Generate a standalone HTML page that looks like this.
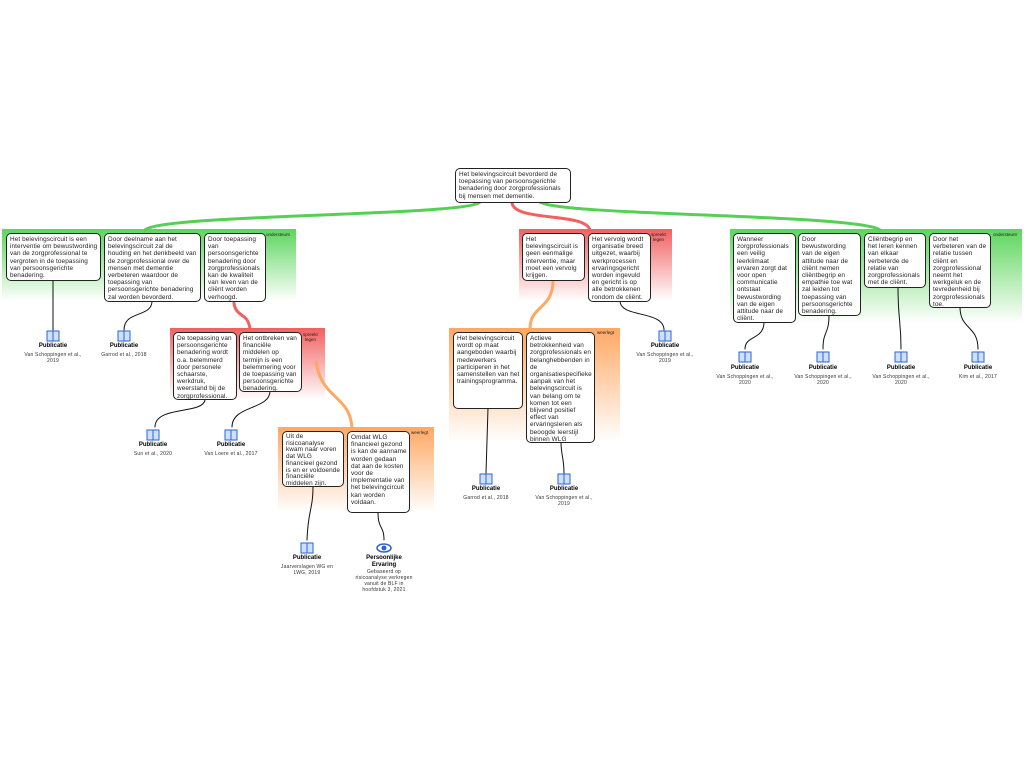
<!DOCTYPE html>
<html><head><meta charset="utf-8"><style>
body{margin:0;width:1024px;height:768px;background:#fff;position:relative;overflow:hidden;font-family:"Liberation Sans",sans-serif;}
.g{position:absolute;}
.gr{background:linear-gradient(#5cd65c,#fff);}
.rd{background:linear-gradient(#f26060,#fff);}
.or{background:linear-gradient(#ffa863,#fff);}
.b{position:absolute;background:#fff;border:1.5px solid #222;border-radius:5px;font-size:6.4px;letter-spacing:0.1px;line-height:7.2px;color:#222;padding:2px 2px 2px 3px;box-sizing:border-box;overflow:hidden;}
.lab{position:absolute;font-size:4.5px;line-height:5px;color:#222;text-align:center;}
.pt{position:absolute;font-size:6px;font-weight:bold;text-align:center;width:80px;color:#000;line-height:7px;}
.pr{position:absolute;font-size:5px;letter-spacing:0.2px;line-height:6px;text-align:center;width:60px;color:#333;}
svg{position:absolute;left:0;top:0;}
</style></head><body>
<div class="g gr" style="left:2px;top:229px;width:294px;height:72px"></div>
<div class="g rd" style="left:170px;top:328px;width:155px;height:72px"></div>
<div class="g or" style="left:278px;top:427px;width:156px;height:86px"></div>
<div class="g rd" style="left:519px;top:229px;width:153px;height:72px"></div>
<div class="g or" style="left:449px;top:328px;width:171px;height:114px"></div>
<div class="g gr" style="left:730px;top:229px;width:292px;height:94px"></div>
<div class="lab" style="left:266px;top:232px">ondersteunt</div>
<div class="lab" style="left:303px;top:332px">spreekt<br>tegen</div>
<div class="lab" style="left:411px;top:430px">weerlegt</div>
<div class="lab" style="left:651px;top:232px">spreekt<br>tegen</div>
<div class="lab" style="left:597px;top:330px">weerlegt</div>
<div class="lab" style="left:993px;top:232px">ondersteunt</div>
<svg width="1024" height="768">
<g fill="none" stroke-linecap="round">
<path d="M480 202 C470 216 160 214 145 230" stroke="#55d055" stroke-width="3"/>
<path d="M540 202 C560 216 860 214 880 230" stroke="#55d055" stroke-width="3"/>
<path d="M512 203 C515 222 585 212 590 230" stroke="#f26060" stroke-width="3"/>
<path d="M234 303 C236 318 248 312 250 329" stroke="#f26060" stroke-width="3"/>
<path d="M316 362 C322 400 350 395 352 428" stroke="#ffa863" stroke-width="3"/>
<path d="M553 282 C552 310 530 305 530 329" stroke="#ffa863" stroke-width="3"/>
<g stroke="#111" stroke-width="1">
<path d="M53 280 L53 330"/>
<path d="M152 301 C152 318 124 310 124 330"/>
<path d="M205 399 C205 415 155 405 155 427"/>
<path d="M270 391 C270 410 232 405 232 427"/>
<path d="M313 486 C313 510 308 510 307 540"/>
<path d="M378 512 C378 530 384 525 384 540"/>
<path d="M488 408 L486 473"/>
<path d="M561 442 C561 455 564 458 564 473"/>
<path d="M620 301 C620 318 664 310 664 330"/>
<path d="M764 322 C764 340 745 335 745 349"/>
<path d="M829 315 C829 335 823 330 823 349"/>
<path d="M898 287 C898 320 901 320 901 349"/>
<path d="M960 307 C960 330 978 325 978 349"/>
</g></g>
</svg>
<div class="b" style="left:455px;top:168px;width:116px;height:35px">Het belevingscircuit bevorderd de toepassing van persoonsgerichte benadering door zorgprofessionals bij mensen met dementie.</div>
<div class="b" style="left:6px;top:233px;width:95px;height:48px">Het belevingscircuit is een interventie om bewustwording van de zorgprofessional te vergroten in de toepassing van persoonsgerichte benadering.</div>
<div class="b" style="left:104px;top:233px;width:97px;height:69px">Door deelname aan het belevingscircuit zal de houding en het denkbeeld van de zorgprofessional over de mensen met dementie verbeteren waardoor de toepassing van persoonsgerichte benadering zal worden bevorderd.</div>
<div class="b" style="left:204px;top:233px;width:62px;height:69px">Door toepassing van persoonsgerichte benadering door zorgprofessionals kan de kwaliteit van leven van de cliënt  worden verhoogd.</div>
<div class="b" style="left:173px;top:332px;width:64px;height:68px">De toepassing van persoonsgerichte benadering wordt o.a. belemmerd door personele schaarste, werkdruk, weerstand bij de zorgprofessional.</div>
<div class="b" style="left:239px;top:332px;width:63px;height:60px">Het ontbreken van financiële middelen op termijn is een belemmering voor de toepassing van persoonsgerichte benadering.</div>
<div class="b" style="left:282px;top:431px;width:62px;height:56px;line-height:6.7px">Uit de risicoanalyse kwam naar voren dat WLG financieel gezond is en er voldoende financiële middelen zijn.</div>
<div class="b" style="left:347px;top:431px;width:63px;height:82px">Omdat WLG financieel gezond is kan de aanname worden gedaan dat aan de kosten voor de implementatie van het belevingcircuit kan worden voldaan.</div>
<div class="b" style="left:522px;top:233px;width:63px;height:48px">Het belevingscircuit is geen eenmalige interventie, maar moet een vervolg krijgen.</div>
<div class="b" style="left:588px;top:233px;width:63px;height:69px">Het vervolg wordt organisatie breed uitgezet, waarbij werkprocessen ervaringsgericht worden ingevuld en gericht is op alle betrokkenen rondom de cliënt.</div>
<div class="b" style="left:453px;top:332px;width:70px;height:77px">Het belevingscircuit wordt op maat aangeboden waarbij medewerkers participeren in het samenstellen van het trainingsprogramma.</div>
<div class="b" style="left:526px;top:332px;width:69px;height:111px">Actieve betrokkenheid van zorgprofessionals en belanghebbenden in de organisatiespecifieke aanpak van het belevingscircuit is van belang om te komen tot een blijvend positief effect van ervaringsleren als beoogde leerstijl binnen WLG</div>
<div class="b" style="left:733px;top:233px;width:63px;height:90px">Wanneer zorgprofessionals een veilig leerklimaat ervaren  zorgt dat voor open communicatie ontstaat bewustwording van de eigen attitude naar de cliënt.</div>
<div class="b" style="left:798px;top:233px;width:63px;height:83px">Door bewustwording van de eigen attitude naar de cliënt nemen cliëntbegrip en empathie toe wat zal leiden tot toepassing van persoonsgerichte benadering.</div>
<div class="b" style="left:864px;top:233px;width:62px;height:55px">Cliëntbegrip en het leren kennen van elkaar verbeterde de relatie van zorgprofessionals met de cliënt.</div>
<div class="b" style="left:929px;top:233px;width:62px;height:75px">Door het verbeteren van de relatie tussen cliënt en zorgprofessional neemt het werkgeluk en de tevredenheid bij zorgprofessionals toe.</div>
<svg width="1024" height="768" style="pointer-events:none">
<defs><g id="book"><rect x="-6.5" y="-5.5" width="13" height="11" fill="#2a63d4"/><rect x="-5.5" y="-4.5" width="5" height="9" fill="#cfe0ff"/><rect x="0.5" y="-4.5" width="5" height="9" fill="#cfe0ff"/></g></defs>
<use href="#book" x="53" y="336"/><use href="#book" x="124" y="336"/>
<use href="#book" x="153" y="435"/><use href="#book" x="231" y="435"/>
<use href="#book" x="307" y="548"/>
<use href="#book" x="486" y="479"/><use href="#book" x="564" y="479"/>
<use href="#book" x="665" y="336"/>
<use href="#book" x="745" y="357"/><use href="#book" x="823" y="357"/><use href="#book" x="901" y="357"/><use href="#book" x="978" y="357"/>
<ellipse cx="384" cy="548" rx="7" ry="4" fill="none" stroke="#2a63d4" stroke-width="1.5"/><circle cx="384" cy="548" r="2.5" fill="#2a63d4"/>
</svg>
<div class="pt" style="left:13px;top:343px">Publicatie</div><div class="pr" style="left:23px;top:352px">Van Schoppingen et al., 2019</div>
<div class="pt" style="left:84px;top:343px">Publicatie</div><div class="pr" style="left:94px;top:352px">Garrod et al., 2018</div>
<div class="pt" style="left:113px;top:442px">Publicatie</div><div class="pr" style="left:123px;top:451px">Sun et al., 2020</div>
<div class="pt" style="left:191px;top:442px">Publicatie</div><div class="pr" style="left:201px;top:451px">Van Loere et al., 2017</div>
<div class="pt" style="left:267px;top:555px">Publicatie</div><div class="pr" style="left:277px;top:564px">Jaarverslagen WG en LWG, 2019</div>
<div class="pt" style="left:359px;top:555px;width:50px">Persoonlijke Ervaring</div><div class="pr" style="left:354px;top:569px">Gebaseerd op risicoanalyse verkregen vanuit de BLF in hoofdstuk 3, 2021</div>
<div class="pt" style="left:446px;top:486px">Publicatie</div><div class="pr" style="left:456px;top:495px">Garrod et al., 2018</div>
<div class="pt" style="left:524px;top:486px">Publicatie</div><div class="pr" style="left:534px;top:495px">Van Schoppingen et al., 2019</div>
<div class="pt" style="left:625px;top:343px">Publicatie</div><div class="pr" style="left:635px;top:352px">Van Schoppingen et al., 2019</div>
<div class="pt" style="left:705px;top:365px">Publicatie</div><div class="pr" style="left:715px;top:374px">Van Schoppingen et al., 2020</div>
<div class="pt" style="left:783px;top:365px">Publicatie</div><div class="pr" style="left:793px;top:374px">Van Schoppingen et al., 2020</div>
<div class="pt" style="left:861px;top:365px">Publicatie</div><div class="pr" style="left:871px;top:374px">Van Schoppingen et al., 2020</div>
<div class="pt" style="left:938px;top:365px">Publicatie</div><div class="pr" style="left:948px;top:374px">Kim et al., 2017</div>
</body></html>
